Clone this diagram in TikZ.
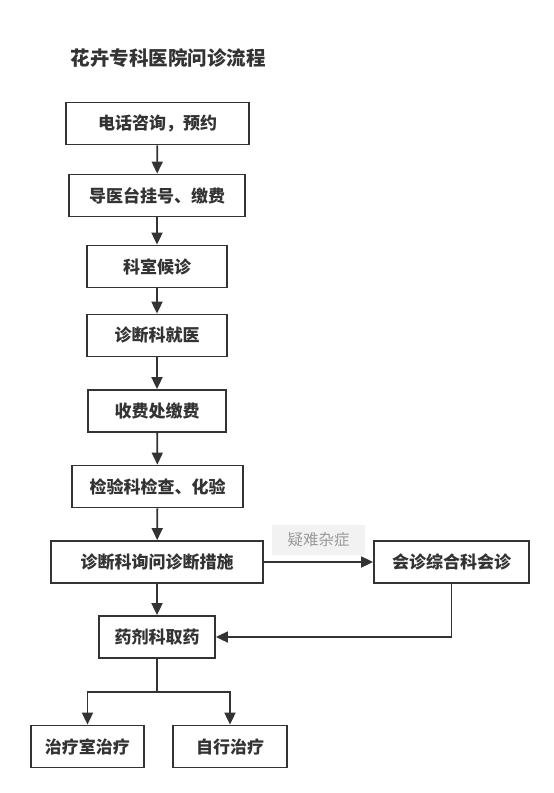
\documentclass[tikz,border=0pt]{standalone}
\usepackage{fontspec}
\setmainfont{Noto Sans CJK SC}
\usetikzlibrary{arrows.meta}
\definecolor{ln}{HTML}{333333}
\definecolor{lblbg}{HTML}{F2F2F2}
\definecolor{lbltx}{HTML}{9A9A9A}
\tikzset{
  box/.style={draw=ln, line width=1.8pt, minimum height=42pt, inner sep=0pt,
    font=\fontsize{17}{19}\selectfont\bfseries, text=ln},
  conn/.style={draw=ln, line width=1.8pt, -{Triangle[length=12pt,width=11pt]}},
  plain/.style={draw=ln, line width=1.8pt}
}
\begin{document}
\begin{tikzpicture}[x=1pt,y=-1pt]
\useasboundingbox (0,0) rectangle (554,793);
\node[anchor=west, font=\fontsize{19.5}{22}\selectfont\bfseries, text=ln] (title) at (67,58) {花卉专科医院问诊流程};
\node[box, minimum width=183pt] (n1) at (157.5,123.5) {电话咨询，预约};
\node[box, minimum width=176pt] (n2) at (157,195.5) {导医台挂号、缴费};
\node[box, minimum width=140pt] (n3) at (157,266.5) {科室候诊};
\node[box, minimum width=140pt] (n4) at (157,335.5) {诊断科就医};
\node[box, minimum width=138pt] (n5) at (157,411) {收费处缴费};
\node[box, minimum width=171pt] (n6) at (157.5,486.5) {检验科检查、化验};
\node[box, minimum width=212pt] (n7) at (157,562) {诊断科询问诊断措施};
\node[box, minimum width=155pt] (n8) at (451.5,562) {会诊综合科会诊};
\node[box, minimum width=116pt] (n9) at (157,637) {药剂科取药};
\node[box, minimum width=113pt] (n10) at (87.5,746.5) {治疗室治疗};
\node[box, minimum width=114pt] (n11) at (230,746.5) {自行治疗};
\node[fill=lblbg, minimum width=93pt, minimum height=30pt, inner sep=0pt,
  font=\fontsize{15.5}{17}\selectfont, text=lbltx] (lbl) at (318.5,540) {疑难杂症};
\coordinate (br) at (157,692);
\draw[conn] (n1) -- (n2);
\draw[conn] (n2) -- (n3);
\draw[conn] (n3) -- (n4);
\draw[conn] (n4) -- (n5);
\draw[conn] (n5) -- (n6);
\draw[conn] (n6) -- (n7);
\draw[conn] (n7) -- (n9);
\draw[conn] (n7.east) -- (n8.west);
\draw[conn] (n8.south) |- (n9.east);
\draw[plain] (n9.south) -- (br);
\draw[conn] (br) -| (n10.north);
\draw[conn] (br) -| (n11.north);
\end{tikzpicture}
\end{document}
